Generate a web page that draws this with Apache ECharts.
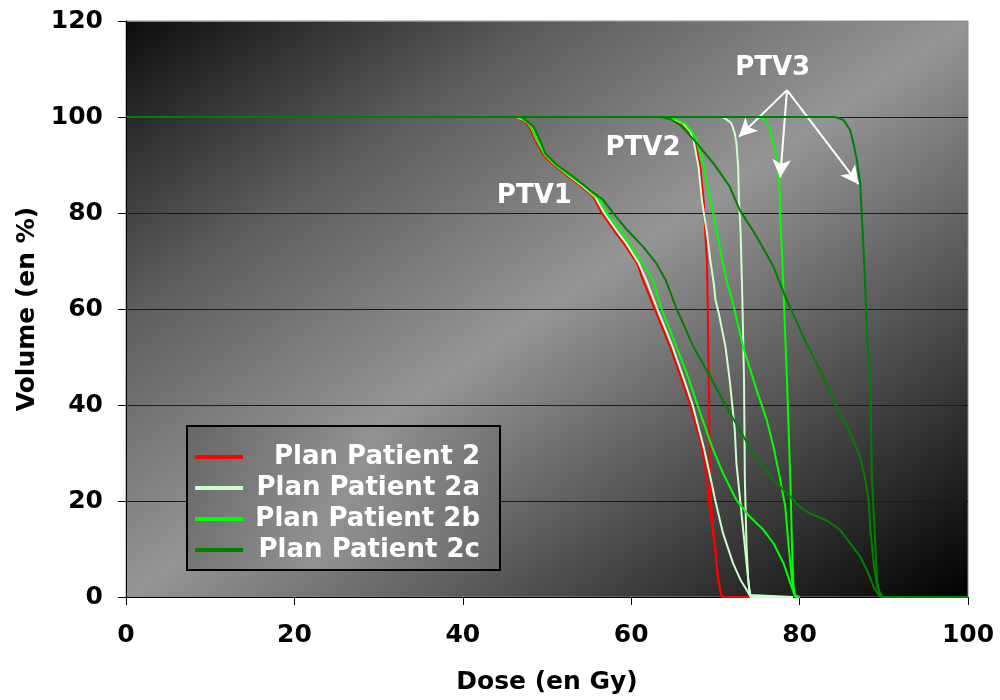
<!DOCTYPE html>
<html>
<head>
<meta charset="utf-8">
<script src="https://cdn.jsdelivr.net/npm/echarts@6/dist/echarts.min.js"></script>
<style>
  html, body { margin: 0; padding: 0; background: #ffffff; }
  #chart { width: 1000px; height: 700px; }
</style>
</head>
<body>
<div id="chart"></div>
<script>
// Plans and their colours
const planNames = ['Plan Patient 2', 'Plan Patient 2a', 'Plan Patient 2b', 'Plan Patient 2c'];
const planColors = ['#ff0000', '#ccffcc', '#00ff00', '#008000'];

// Cumulative dose-volume histograms: [dose (Gy), volume (%)]
const p2_ptv1 = [[0,100],[46.2,100],[47.0,99.4],[47.5,98.8],[48.0,97.6],[48.6,95.2],[49.6,92.1],[50.8,90.0],[52.3,87.9],[53.9,85.8],[55.5,83.4],[56.5,80.0],[57.9,76.5],[59.1,73.7],[60.7,69.5],[61.4,66.0],[62.8,60.0],[64.6,52.2],[66.0,45.2],[67.0,40.0],[68.4,31.3],[69.0,24.4],[69.2,20.0],[69.6,15.0],[70.0,10.0],[70.3,4.0],[70.6,1.0],[70.8,0],[74.1,0]];
const p2_ptv2 = [[0,100],[63.3,100],[64.8,99.6],[66.0,98.6],[66.8,97.2],[67.4,95.5],[67.8,93.0],[68.2,89.6],[68.6,82.7],[68.8,76.0],[69.0,70.0],[69.1,60.0],[69.2,45.0],[69.3,35.0],[69.4,22.0],[69.7,15.0],[70.0,10.0],[70.3,4.0],[70.6,1.0],[70.8,0],[74.1,0]];

const p2a_ptv1 = [[0,100],[46.4,100],[47.2,99.4],[47.7,98.8],[48.2,97.6],[48.8,95.2],[49.8,92.1],[51.0,90.0],[52.5,87.9],[54.1,85.8],[55.7,83.4],[56.8,80.0],[58.2,76.5],[59.4,73.7],[60.9,69.5],[61.8,66.0],[63.1,60.0],[64.9,52.2],[66.3,45.2],[67.3,40.0],[68.6,31.3],[69.4,25.0],[70.0,20.0],[70.9,13.3],[72.1,7.0],[73.0,3.5],[73.7,1.5],[74.2,0],[79.2,0]];
const p2a_ptv2 = [[0,100],[63.5,100],[65.0,99.6],[66.2,98.6],[67.0,97.0],[67.4,95.2],[68.0,89.6],[68.4,82.7],[69.0,75.8],[69.4,70.2],[69.8,65.4],[70.0,62.0],[70.4,59.1],[71.2,52.1],[71.7,45.2],[72.3,34.8],[72.5,27.8],[72.9,20.9],[73.3,14.0],[73.7,7.0],[74.0,2.0],[74.2,0],[79.2,0]];
const p2a_ptv3 = [[0,100],[70.8,100],[71.3,99.5],[71.9,98.7],[72.3,96.6],[72.5,94.5],[72.7,89.6],[72.8,82.7],[73.0,75.8],[73.1,68.8],[73.2,61.9],[73.4,45.2],[73.5,24.4],[73.7,10.5],[73.9,3.5],[74.1,0.4],[74.3,0],[79.2,0]];

const p2b_ptv1 = [[0,100],[46.6,100],[47.6,99.0],[48.2,97.6],[48.8,95.2],[49.7,92.3],[51.0,90.0],[52.6,87.9],[54.3,85.8],[56.3,82.7],[57.1,80.0],[58.7,76.5],[60.6,71.6],[62.6,66.0],[63.6,60.0],[64.6,55.6],[66.6,46.6],[68.2,38.3],[69.6,31.3],[70.9,25.8],[72.5,20.2],[74.1,16.7],[75.7,14.0],[76.9,11.2],[78.1,7.0],[78.9,2.9],[79.4,0.4],[79.6,0],[80.0,0]];
const p2b_ptv2 = [[0,100],[63.6,100],[65.2,99.6],[66.4,98.6],[67.2,97.0],[67.6,95.9],[68.4,91.7],[69.0,86.2],[69.6,81.3],[70.2,75.8],[70.8,70.2],[71.4,65.4],[72.0,61.9],[73.3,52.1],[74.9,43.1],[76.1,36.9],[76.9,31.3],[77.7,24.4],[78.3,18.8],[78.7,10.5],[79.1,3.5],[79.4,0.8],[79.6,0],[80.0,0]];
const p2b_ptv3 = [[0,100],[75.0,100],[75.9,99.4],[76.5,97.3],[76.9,94.5],[77.3,91.0],[77.6,86.2],[77.7,79.2],[77.9,72.3],[78.1,63.3],[78.5,45.2],[78.9,24.4],[79.1,10.5],[79.3,1.4],[79.5,0],[80.0,0]];

const p2c_ptv1 = [[0,100],[46.9,100],[47.2,99.7],[48.4,98.0],[49.0,95.9],[49.8,92.4],[51.2,90.0],[53.1,87.6],[55.1,84.8],[56.7,82.7],[57.9,79.9],[59.5,76.5],[61.4,73.0],[63.0,69.5],[64.1,66.0],[65.4,60.0],[67.4,52.1],[69.4,45.9],[71.3,39.6],[72.9,34.8],[74.5,29.9],[76.9,24.4],[78.9,20.9],[80.0,18.8],[81.2,17.4],[83.2,16.0],[84.8,14.0],[86.0,11.2],[87.2,8.4],[88.0,5.6],[88.8,2.1],[89.4,0.4],[89.7,0],[100,0]];
const p2c_ptv2 = [[0,100],[63.5,100],[64.6,99.6],[65.8,98.3],[66.6,96.9],[67.8,94.5],[69.8,90.3],[71.7,85.5],[72.9,80.6],[74.9,75.1],[76.9,68.8],[78.3,62.6],[80.5,54.0],[83.0,45.2],[84.4,39.6],[86.0,34.1],[87.2,29.2],[87.8,24.4],[88.2,20.2],[88.4,14.0],[88.8,7.0],[89.2,2.1],[89.7,0.4],[90.0,0],[100,0]];
const p2c_ptv3 = [[0,100],[84.2,100],[85.2,99.4],[86.0,97.3],[86.4,94.5],[86.8,91.0],[87.2,86.2],[87.4,79.2],[87.6,72.3],[87.8,64.6],[88.0,55.0],[88.4,45.2],[88.6,24.4],[89.0,10.5],[89.2,3.5],[89.5,0.5],[89.8,0],[100,0]];

const planCurves = [
  [p2_ptv1, p2_ptv2],
  [p2a_ptv1, p2a_ptv2, p2a_ptv3],
  [p2b_ptv1, p2b_ptv2, p2b_ptv3],
  [p2c_ptv1, p2c_ptv2, p2c_ptv3]
];

// Volume labels and their anchor points
const ptvLabels = ['PTV1', 'PTV2', 'PTV3'];
const ptvLabelPos = [[48.5, 83.4], [61.4, 93.4], [76.8, 110.1]];

// PTV3 pointers: start under the label, end at each PTV3 curve
const arrowStart = [78.5, 105.6];
const arrowEnds = [[72.8, 95.9], [77.7, 87.4], [87.0, 86.0]];

const xTicks = { min: 0, max: 100, interval: 20 };
const yTicks = { min: 0, max: 120, interval: 20 };

const FONT = 'DejaVu Sans';

const chart = echarts.init(document.getElementById('chart'), null, { renderer: 'canvas' });

const gridLeft = 126, gridTop = 21, gridW = 842, gridH = 576;

// Diagonal shading: dark corners, light band along the anti-diagonal
const plotFill = new echarts.graphic.LinearGradient(
  gridLeft, gridTop, gridLeft + 537, gridTop + 785,
  [
    { offset: 0, color: '#0d0d0d' },
    { offset: 0.25, color: '#5c5c5c' },
    { offset: 0.5, color: '#959595' },
    { offset: 1, color: '#000000' }
  ],
  true
);

const legendFill = new echarts.graphic.LinearGradient(0, 0, 1, 1, [
  { offset: 0, color: '#666666' },
  { offset: 0.5, color: '#929292' },
  { offset: 1, color: '#666666' }
]);

const series = [];
planCurves.forEach((curves, i) => {
  curves.forEach((pts) => {
    series.push({
      name: planNames[i],
      type: 'line',
      data: pts,
      showSymbol: false,
      symbol: 'none',
      lineStyle: { color: planColors[i], width: 2 },
      itemStyle: { color: planColors[i] },
      z: 2 + i,
      animation: false,
      silent: true
    });
  });
});

series.push({
  name: 'labels',
  type: 'scatter',
  data: ptvLabels.map((t, i) => ({ name: t, value: ptvLabelPos[i] })),
  symbolSize: 1,
  itemStyle: { color: 'rgba(0,0,0,0)', opacity: 1 },
  label: {
    show: true,
    position: 'inside',
    formatter: '{b}',
    color: '#ffffff',
    opacity: 1,
    fontFamily: FONT,
    fontWeight: 'bold',
    fontSize: 26
  },
  markLine: {
    silent: true,
    symbol: ['none', 'arrow'],
    symbolSize: [14, 18],
    label: { show: false },
    lineStyle: { color: '#ffffff', width: 2, type: 'solid', opacity: 1 },
    data: arrowEnds.map(e => [{ coord: arrowStart }, { coord: e }]),
    animation: false
  },
  z: 10,
  silent: true,
  animation: false
});

chart.setOption({
  animation: false,
  backgroundColor: '#ffffff',
  textStyle: { fontFamily: FONT },
  grid: {
    left: gridLeft, top: gridTop, width: gridW, height: gridH,
    outerBoundsMode: 'none',
    containLabel: false,
    show: true,
    backgroundColor: plotFill,
    borderColor: '#8a8a8a',
    borderWidth: 1
  },
  legend: {
    data: planNames,
    orient: 'vertical',
    left: 187,
    top: 426,
    padding: [17, 20, 6, 8],
    itemGap: 3,
    itemWidth: 48,
    itemHeight: 4,
    icon: 'rect',
    backgroundColor: legendFill,
    borderColor: '#000000',
    borderWidth: 2,
    selectedMode: false,
    formatter: name => '{r|' + name + '}',
    textStyle: {
      color: '#ffffff',
      fontFamily: FONT,
      fontWeight: 'bold',
      fontSize: 26,
      lineHeight: 28,
      rich: {
        r: {
          width: 232, height: 28, align: 'right', lineHeight: 28,
          color: '#ffffff', fontFamily: FONT, fontWeight: 'bold', fontSize: 26
        }
      }
    }
  },
  xAxis: {
    type: 'value',
    min: xTicks.min, max: xTicks.max, interval: xTicks.interval,
    name: 'Dose (en Gy)',
    nameLocation: 'middle',
    nameGap: 73,
    nameTextStyle: { color: '#000', fontFamily: FONT, fontWeight: 'bold', fontSize: 25 },
    axisLine: { show: true, lineStyle: { color: '#000', width: 1 } },
    axisTick: { show: true, inside: false, length: 8, lineStyle: { color: '#000' } },
    axisLabel: { color: '#000', fontFamily: FONT, fontWeight: 'bold', fontSize: 25, margin: 26 },
    splitLine: { show: false }
  },
  yAxis: {
    type: 'value',
    min: yTicks.min, max: yTicks.max, interval: yTicks.interval,
    name: 'Volume (en %)',
    nameLocation: 'middle',
    nameGap: 84,
    nameRotate: 90,
    nameTextStyle: { color: '#000', fontFamily: FONT, fontWeight: 'bold', fontSize: 25 },
    axisLine: { show: true, lineStyle: { color: '#000', width: 1 } },
    axisTick: { show: true, inside: false, length: 8, lineStyle: { color: '#000' } },
    axisLabel: { color: '#000', fontFamily: FONT, fontWeight: 'bold', fontSize: 25, margin: 23 },
    splitLine: {
      show: true,
      lineStyle: {
        color: ['#1a1a1a', '#1a1a1a', '#1a1a1a', '#1a1a1a', '#1a1a1a', '#1a1a1a', '#8a8a8a'],
        width: 1
      }
    }
  },
  series: series
});
</script>
</body>
</html>
